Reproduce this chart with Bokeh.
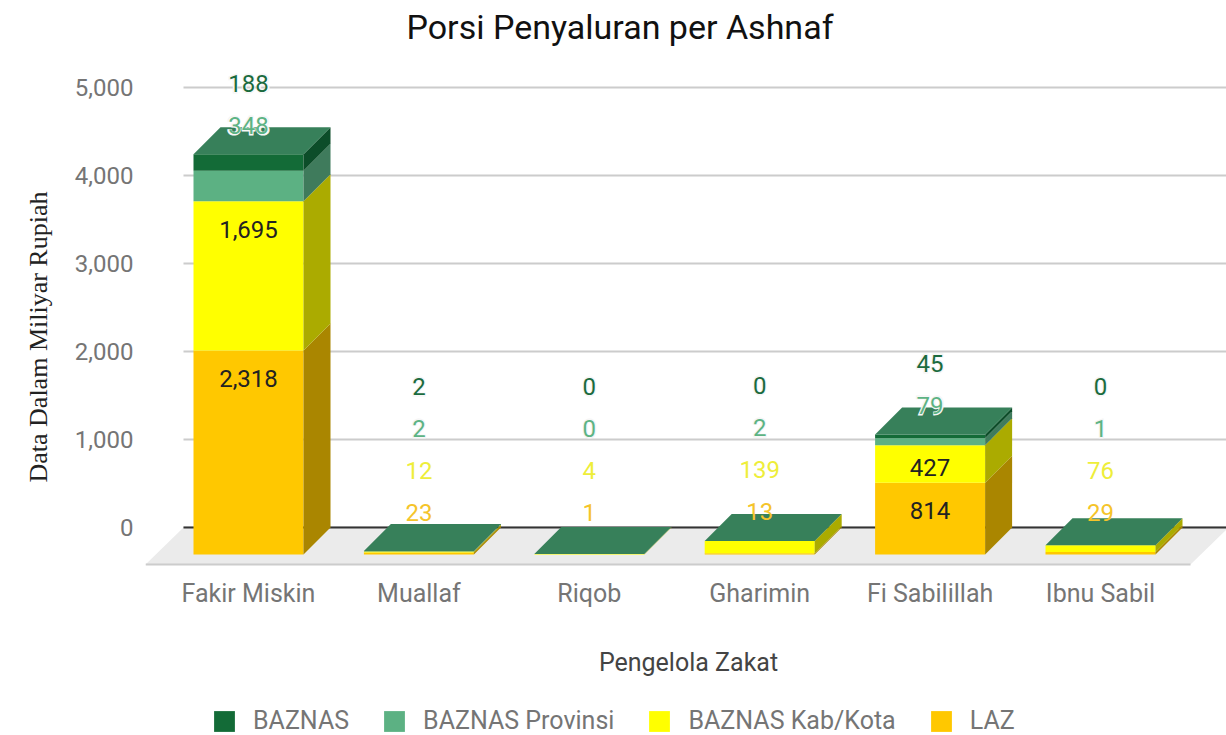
import numpy as np
from bokeh.plotting import figure
from bokeh.models import Range1d, FixedTicker, NumeralTickFormatter, Legend, LegendItem, Title
from bokeh.core.properties import value
from bokeh.embed import file_html
from bokeh.resources import INLINE

# ---------------- data ----------------
categories = ["Fakir Miskin", "Muallaf", "Riqob", "Gharimin", "Fi Sabilillah", "Ibnu Sabil"]
laz = [2318, 23, 1, 13, 814, 29]
kab_kota = [1695, 12, 4, 139, 427, 76]
provinsi = [348, 2, 0, 2, 79, 1]
baznas = [188, 2, 0, 0, 45, 0]
series_names = ["LAZ", "BAZNAS Kab/Kota", "BAZNAS Provinsi", "BAZNAS"]   # bottom -> top
y_ticks = [0, 1000, 2000, 3000, 4000, 5000]

# ---------------- styles ----------------
front_colors = ["#ffc800", "#ffff00", "#5cb183", "#136b37"]
side_colors = ["#aa8600", "#abab00", "#3f7b5c", "#0c4d29"]
top_color = "#37805a"
out_label_colors = ["#f5c42a", "#eeee3a", "#5db384", "#1b6b3e"]
halo = [False, False, True, True]
FONT = "Roboto"
GRAY = "#757575"

# ---------------- geometry (screen px -> data units) ----------------
W, H = 1226, 735
FL, FT = 145, 52                 # frame left / top
FW, FH = W - FL, H - FT          # frame extends to right and bottom edges
PX_Y = 0.088                     # px per value unit
PX_X = 170.4                     # px per category
ZERO_Y = 527                     # screen y of value 0
CAT0_X = 248                     # screen x of first category centre

x0 = (FL - CAT0_X) / PX_X
x1 = x0 + FW / PX_X
y1 = (ZERO_Y - FT) / PX_Y
y0 = y1 - FH / PX_Y


def sx(px):   # screen x -> data x
    return (px - CAT0_X) / PX_X


def sy(px):   # screen y -> data y
    return (ZERO_Y - px) / PX_Y


def dy(px):
    return px / PX_Y


def dx(px):
    return px / PX_X


DX, DY = dx(27), dy(27)
BW = dx(110)

p = figure(width=W, height=H, output_backend="svg", toolbar_location=None,
           x_range=Range1d(x0, x1), y_range=Range1d(y0, y1),
           min_border_left=FL, min_border_right=0, min_border_top=FT, min_border_bottom=0)
p.outline_line_color = None
p.background_fill_color = "white"
p.xaxis.visible = False
p.xgrid.visible = False
p.ygrid.visible = False

# title
p.title.text = "Porsi Penyaluran per Ashnaf"
p.title.align = "left"
p.title.offset = 406 - FL
p.title.vertical_align = "top"
p.title.text_font = FONT
p.title.text_font_size = "34px"
p.title.text_font_style = "normal"
p.title.text_color = "#111111"
p.title.standoff = 8

# y axis
ya = p.yaxis[0]
ya.ticker = FixedTicker(ticks=y_ticks)
ya.formatter = NumeralTickFormatter(format="0,0")
ya.axis_line_color = None
ya.major_tick_line_color = None
ya.minor_tick_line_color = None
ya.major_tick_out = 0
ya.major_tick_in = 0
ya.major_label_standoff = 12
ya.major_label_text_font = FONT
ya.major_label_text_font_size = "24px"
ya.major_label_text_color = GRAY

# y axis title (rotated, starts at screen y 482 like the reference)
p.add_layout(Title(text="Data Dalam Miliyar Rupiah", align="left", offset=H - 482,
                   vertical_align="top", text_font="Liberation Serif", text_font_size="26px",
                   text_font_style="normal", text_color="#222222", standoff=34), "left")

# grid lines (from y ticks) and baseline
gx0, gx1 = sx(183), x1
p.segment(x0=[gx0] * len(y_ticks), y0=y_ticks, x1=[gx1] * len(y_ticks), y1=y_ticks,
          line_color="#cccccc", line_width=2)

# floor
fb0, fb1 = sx(183), sx(1228)
fdx, fdy = dx(38), dy(37)
p.patch([fb0, fb1, fb1 - fdx, fb0 - fdx], [0, 0, -fdy, -fdy], fill_color="#ebebeb", line_color=None)
p.segment(x0=[fb0 - fdx], y0=[-fdy], x1=[fb1 - fdx], y1=[-fdy], line_color="#cccccc", line_width=2)
p.segment(x0=[gx0], y0=[0], x1=[gx1], y1=[0], line_color="#333333", line_width=2)

# bars
stack = [laz, kab_kota, provinsi, baznas]
n = len(categories)
cx = np.arange(n)
cum = np.zeros(n)
front_renderers = []
for s, vals in enumerate(stack):
    v = np.array(vals, dtype=float)
    b, t = cum.copy(), cum + v
    r = p.quad(left=cx - BW / 2, right=cx + BW / 2, bottom=b - DY, top=t - DY,
               fill_color=front_colors[s], line_color=None)
    front_renderers.append(r)
    xs, ys = [], []
    for i in range(n):
        if v[i] <= 0:
            continue
        xr = cx[i] + BW / 2
        xs.append([xr, xr + DX, xr + DX, xr])
        ys.append([b[i] - DY, b[i], t[i], t[i] - DY])
    if xs:
        p.patches(xs, ys, fill_color=side_colors[s], line_color=None)
    cum = t

# top faces
tot = cum
xs, ys = [], []
for i in range(n):
    xl, xr = i - BW / 2, i + BW / 2
    xs.append([xl, xr, xr + DX, xl + DX])
    ys.append([tot[i] - DY, tot[i] - DY, tot[i], tot[i]])
p.patches(xs, ys, fill_color=top_color, line_color=None)

# value labels (inside when the segment is tall enough, otherwise stacked above)
lab = {"x": [], "y": [], "t": [], "c": [], "h": []}
for i in range(n):
    c = 0.0
    prev = None
    total = tot[i]
    for s, vals in enumerate(stack):
        v = vals[i]
        t = c + v
        c = t
        if v * PX_Y >= 34:
            y = t - DY - dy(28)
            if prev is not None:
                y = max(y, prev + dy(43))
            col, hl = "#222222", False
        else:
            y = max(total + dy(2), dy(15))
            if prev is not None:
                y = max(y, prev + dy(42))
            col, hl = out_label_colors[s], halo[s]
        prev = y
        lab["x"].append(i)
        lab["y"].append(y)
        lab["t"].append(f"{v:,}")
        lab["c"].append(col)
        lab["h"].append(hl)

hx = [x for x, h in zip(lab["x"], lab["h"]) if h]
hy = [y for y, h in zip(lab["y"], lab["h"]) if h]
ht = [t for t, h in zip(lab["t"], lab["h"]) if h]
p.text(x=hx, y=hy, text=ht, text_color="white", text_outline_color="#f4f4f4",
       text_font=value(FONT), text_font_style="bold", text_font_size="25px",
       text_align="center", text_baseline="middle")
p.text(x=lab["x"], y=lab["y"], text=lab["t"], text_color=lab["c"],
       text_font=value(FONT), text_font_size="24px", text_align="center", text_baseline="middle")

# category labels and x title
p.text(x=list(cx), y=[sy(593)] * n, text=categories, text_color=GRAY,
       text_font=value(FONT), text_font_size="25px", text_align="center", text_baseline="middle")
p.text(x=[sx(688)], y=[sy(662)], text=["Pengelola Zakat"], text_color="#444444",
       text_font=value(FONT), text_font_size="25px", text_align="center", text_baseline="middle")

# legend
order = [3, 2, 1, 0]
legend = Legend(items=[LegendItem(label=series_names[s], renderers=[front_renderers[s]]) for s in order],
                orientation="horizontal", location=(211 - FL, H - 735), glyph_width=26, glyph_height=26,
                label_standoff=16, spacing=32, padding=0, margin=0, border_line_color=None,
                label_text_font=FONT, label_text_font_size="25px", label_text_color=GRAY,
                background_fill_alpha=0)
p.add_layout(legend)

open("out.html", "w").write(file_html(p, INLINE))
